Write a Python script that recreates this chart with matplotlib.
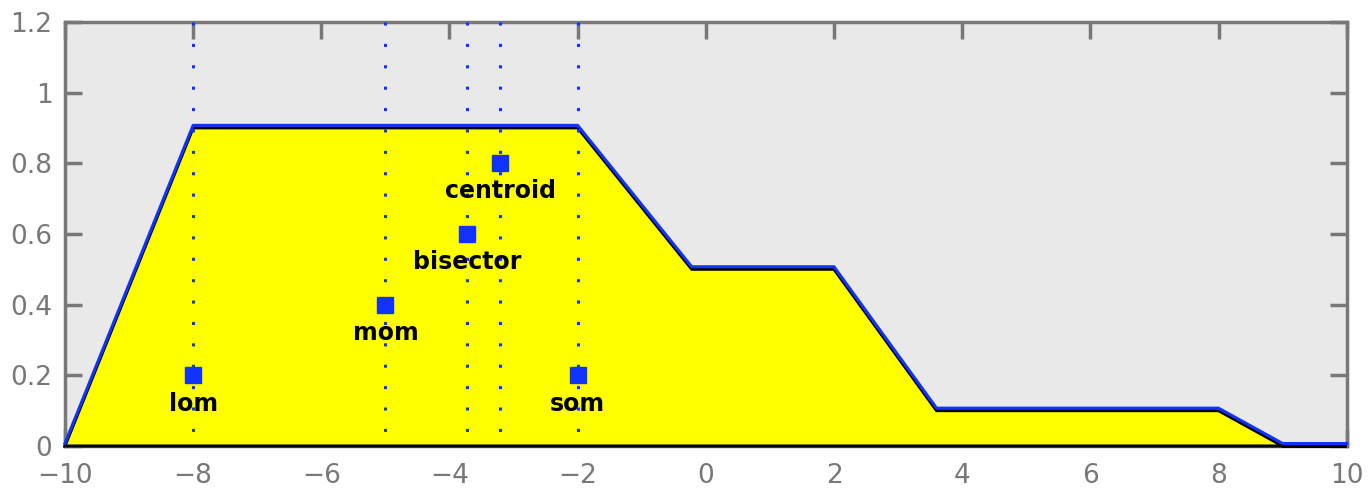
import matplotlib.pyplot as plt
import matplotlib.transforms as mtransforms
import numpy as np

# aggregated membership function, corner points
x_pts = [-10, -8, -2, -0.22, 2, 3.6, 8, 9, 10]
mf_pts = [0, 0.9, 0.9, 0.5, 0.5, 0.1, 0.1, 0, 0]

# defuzzified values and where their markers sit
methods = ["lom", "mom", "bisector", "centroid", "som"]
x_defuzz = [-8.0, -5.0, -3.73, -3.21, -2.0]
y_marker = [0.2, 0.4, 0.6, 0.8, 0.2]

blue = "#1133ff"
gray = "#787878"

fig = plt.figure(figsize=(13.7, 4.9), dpi=100)
ax = fig.add_axes([0.0474, 0.0898, 0.9356, 0.8657])
ax.set_facecolor("#e9e9e9")

ax.fill(x_pts, mf_pts, facecolor="#ffff00", edgecolor="black", linewidth=2.2,
        zorder=3, clip_on=False)
up = mtransforms.offset_copy(ax.transData, fig=fig, x=0, y=2.5, units="dots")
ax.plot(x_pts, mf_pts, color=blue, linewidth=2.2, transform=up, zorder=3.5,
        clip_on=False)

for name, xd, ym in zip(methods, x_defuzz, y_marker):
    ax.plot([xd, xd], [1.2, 0], color=blue, linestyle=(0, (1, 6)), linewidth=2.2, zorder=4)
    ax.plot(xd, ym, "s", color=blue, markersize=11, zorder=5)
    ax.text(xd, ym - 0.08, name, ha="center", va="center", fontsize=17,
            fontweight="bold", color="black", zorder=6)

ax.set_xlim(-10, 10)
ax.set_ylim(0, 1.2)
ax.set_xticks(np.arange(-10, 11, 2))
ax.set_yticks(np.arange(0, 1.21, 0.2))
ax.set_yticklabels(["0", "0.2", "0.4", "0.6", "0.8", "1", "1.2"])
ax.tick_params(direction="in", length=12, width=2.5, color=gray, labelcolor=gray,
               labelsize=19, top=True, right=True)
ax.tick_params(axis="x", pad=12)
ax.tick_params(axis="y", pad=9)
for s in ax.spines.values():
    s.set_color(gray)
    s.set_linewidth(2.5)

fig.savefig("out.png", dpi=100, facecolor="white")
